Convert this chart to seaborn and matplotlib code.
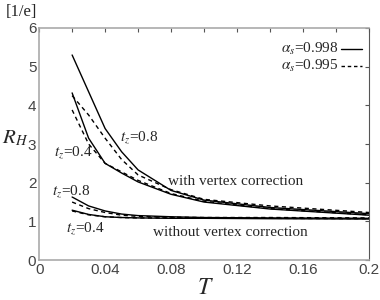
import numpy as np
import pandas as pd
import matplotlib
matplotlib.use("Agg")
import matplotlib.pyplot as plt
import seaborn as sns

sns.set_theme(style="white")
plt.rcParams["font.family"] = ["Liberation Sans", "DejaVu Sans"]
plt.rcParams["mathtext.fontset"] = "stix"

# temperatures
T = [0.02, 0.03, 0.04, 0.05, 0.06, 0.08, 0.10, 0.14, 0.20]

# with vertex correction
vc_08_998 = [5.30, 4.35, 3.40, 2.80, 2.33, 1.80, 1.55, 1.36, 1.20]
vc_08_995 = [4.25, 3.75, 3.15, 2.60, 2.20, 1.82, 1.57, 1.40, 1.23]
vc_04_998 = [4.32, 3.15, 2.50, 2.25, 2.02, 1.70, 1.50, 1.32, 1.16]
vc_04_995 = [3.88, 3.00, 2.50, 2.28, 2.06, 1.72, 1.52, 1.33, 1.17]

# without vertex correction
nv_08_998 = [1.63, 1.40, 1.27, 1.19, 1.15, 1.12, 1.10, 1.09, 1.08]
nv_08_995 = [1.50, 1.33, 1.23, 1.16, 1.13, 1.11, 1.10, 1.10, 1.09]
nv_04_998 = [1.29, 1.18, 1.12, 1.10, 1.09, 1.08, 1.08, 1.07, 1.06]
nv_04_995 = [1.27, 1.17, 1.12, 1.10, 1.09, 1.09, 1.08, 1.08, 1.07]

series = {
    "vc_08_998": (vc_08_998, "-"),
    "vc_08_995": (vc_08_995, "--"),
    "vc_04_998": (vc_04_998, "-"),
    "vc_04_995": (vc_04_995, "--"),
    "nv_08_998": (nv_08_998, "-"),
    "nv_08_995": (nv_08_995, "--"),
    "nv_04_998": (nv_04_998, "-"),
    "nv_04_995": (nv_04_995, "--"),
}

fig = plt.figure(figsize=(3.8, 3.0), dpi=100)
ax = fig.add_axes([0.103, 0.133, 0.868, 0.774])

for name, (vals, ls) in series.items():
    df = pd.DataFrame({"T": T, "R": vals})
    line = sns.lineplot(data=df, x="T", y="R", ax=ax, color="black", linewidth=1.0)
    if ls == "--":
        ax.lines[-1].set_dashes((3, 2.5))

ax.set_xlim(0, 0.2)
ax.set_ylim(0, 6)
ax.set_xticks([0, 0.04, 0.08, 0.12, 0.16, 0.2])
ax.set_xticklabels(["0", "0.04", "0.08", "0.12", "0.16", "0.2"])
ax.set_xticks(np.arange(0, 0.21, 0.02), minor=True)
ax.set_yticks(range(7))
ax.set_xlabel("")
ax.set_ylabel("")
ax.tick_params(axis="both", which="both", direction="in", labelsize=11,
               colors="#555555", labelcolor="#444444", top=True, right=True,
               length=3, width=0.8, pad=2)
for s in ["left", "bottom", "top"]:
    ax.spines[s].set_color("#aaaaaa")
    ax.spines[s].set_linewidth(1.2)
ax.spines["right"].set_color("#555555")
ax.spines["right"].set_linewidth(0.8)

serif = ["Liberation Serif", "DejaVu Serif"]
fig.text(0.015, 0.96, "[1/e]", fontsize=12, family=serif, va="center")
fig.text(0.04, 0.54, r"$R_H$", fontsize=15, va="center", ha="center")
fig.text(0.54, 0.04, r"$T$", fontsize=17, va="center", ha="center")

ax.text(0.049, 3.1, r"$t_z$=0.8", fontsize=11, family=serif)
ax.text(0.009, 2.7, r"$t_z$=0.4", fontsize=11, family=serif)
ax.text(0.008, 1.7, r"$t_z$=0.8", fontsize=11, family=serif)
ax.text(0.016, 0.75, r"$t_z$=0.4", fontsize=11, family=serif)
ax.text(0.078, 1.95, "with vertex correction", fontsize=11, family=serif)
ax.text(0.069, 0.62, "without vertex correction", fontsize=11, family=serif)

ax.text(0.1465, 5.45, r"$\alpha_s$=0.998", fontsize=11, family=serif, va="center")
ax.text(0.1465, 5.02, r"$\alpha_s$=0.995", fontsize=11, family=serif, va="center")
ax.plot([0.183, 0.196], [5.45, 5.45], color="black", linewidth=1.0)
ax.plot([0.183, 0.196], [5.02, 5.02], color="black", linewidth=1.0, dashes=(2.5, 2))

fig.savefig("out.png", dpi=100)
